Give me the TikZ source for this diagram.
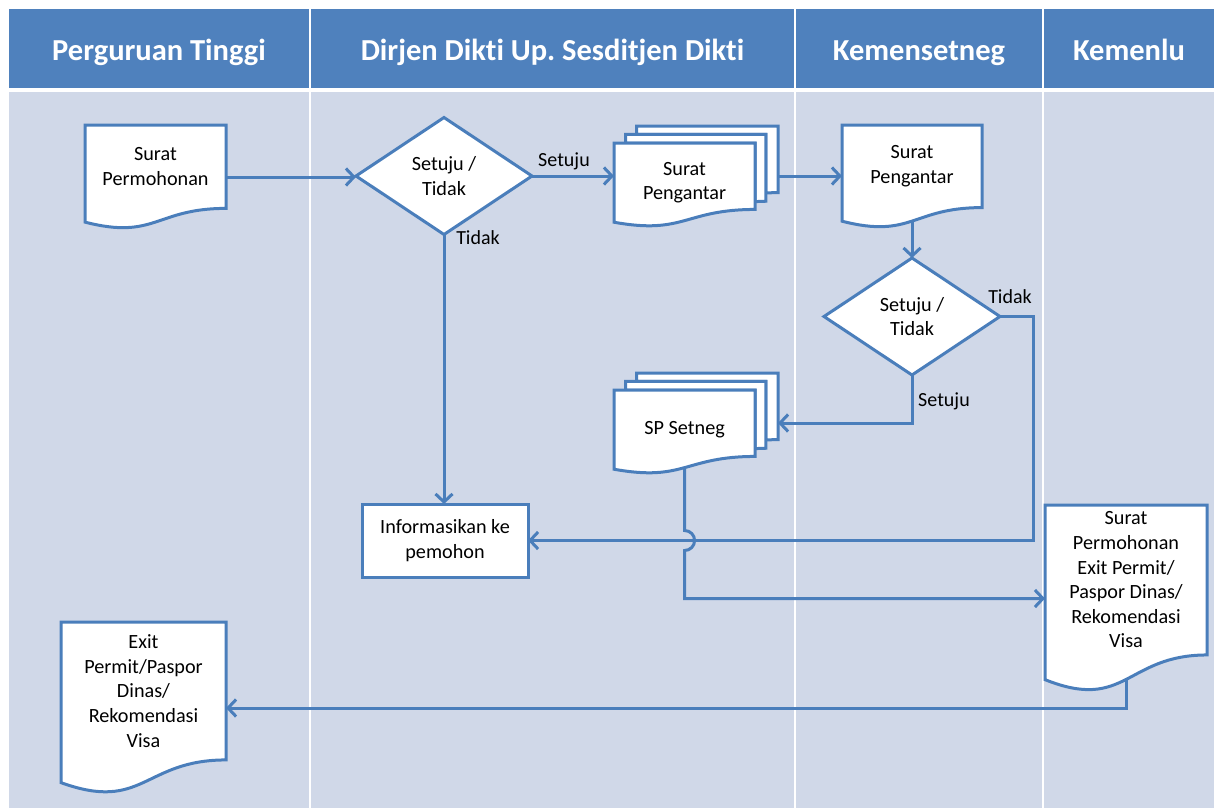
\documentclass[tikz,border=0pt]{standalone}
\usepackage{fontspec}
\setmainfont{Carlito}[Ligatures={NoCommon}]
\usetikzlibrary{arrows.meta,shapes.geometric,calc}
\definecolor{hdr}{HTML}{4F81BD}
\definecolor{lane}{HTML}{D0D8E8}
\definecolor{ln}{HTML}{4A7EBB}
\pgfdeclarelayer{back}
\pgfdeclarelayer{mid}
\pgfsetlayers{back,mid,main}
\frenchspacing
\tikzset{
  shapeline/.style={draw=ln, line width=3pt, fill=white, line join=miter},
  box/.style={draw=none, inner sep=0pt, outer sep=0pt, rectangle},
  txt/.style={font=\fontsize{20.2}{24.6}\selectfont, align=center, inner sep=0pt, text=black},
  conn/.style={draw=ln, line width=3pt, -{Straight Barb[length=8pt,width=17pt]}},
  hdrtxt/.style={font=\fontsize{30.5}{36}\selectfont\bfseries, text=white, anchor=base, inner sep=0pt},
  lbl/.style={font=\fontsize{20}{24}\selectfont, anchor=base, inner sep=0pt, text=black},
  dia/.style={diamond, shapeline, minimum width=176pt, minimum height=117pt, aspect=1.5, inner sep=0pt, outer sep=0pt, font=\fontsize{20.2}{24.6}\selectfont, align=center},
  procbox/.style={rectangle, shapeline, inner sep=0pt, outer sep=0pt, font=\fontsize{20.2}{24.6}\selectfont, align=center},
}
% document shape: name, x, y (down), w, h, text
\newcommand\docshape[6]{%
  \node[box, minimum width=#4pt, minimum height=#5pt, anchor=north west] (#1) at (#2,-#3) {};
  \begin{scope}[shift={(#1.north west)}, x=#4pt, y=-#5pt]
    \path[shapeline] (0,0) -- (1,0) -- (1,0.8019) .. controls (0.5,0.8019) and (0.5,1.1075) .. (0,0.9339) -- cycle;
    \coordinate (#1-b) at (0.5,0.93);
    \node[txt] (#1-t) at (0.5,0.401) {#6};
  \end{scope}}
% multi-document shape
\newcommand\multidoc[6]{%
  \node[box, minimum width=#4pt, minimum height=#5pt, anchor=north west] (#1) at (#2,-#3) {};
  \begin{scope}[shift={(#1.north west)}, x=#4pt, y=-#5pt]
    \path[shapeline] (0.1376,0.0840) -- (0.1376,0) -- (1,0) -- (1,0.6663) .. controls (0.9630,0.6663) and (0.9259,0.6698) .. (0.9259,0.6698) -- (0.9259,0.0840) -- cycle;
    \path[shapeline] (0.0709,0.1701) -- (0.0709,0.0840) -- (0.9259,0.0840) -- (0.9259,0.7524) .. controls (0.8934,0.7524) and (0.8609,0.7570) .. (0.8609,0.7570) -- (0.8609,0.1701) -- cycle;
    \path[shapeline] (0,0.9621) .. controls (0.4305,1.0899) and (0.4305,0.8344) .. (0.8609,0.8344) -- (0.8609,0.1701) -- (0,0.1701) -- cycle;
    \coordinate (#1-b) at (0.4305,0.94);
    \node[txt] (#1-t) at (0.4305,0.566) {#6};
  \end{scope}}
\begin{document}
\begin{tikzpicture}[x=1pt,y=1pt]
\useasboundingbox (0,0) rectangle (1214,-808);
% lanes
\begin{pgfonlayer}{back}
  \fill[white] (0,0) rectangle (1214,-808);
  \fill[hdr] (9,-9) rectangle (1214,-88);
  \fill[lane] (9,-92) rectangle (1214,-808);
  \foreach \xx in {310,795,1043} \fill[white] (\xx-1,-9) rectangle (\xx+1,-808);
\end{pgfonlayer}
\node[hdrtxt] (hd1) at (159,-60) {Perguruan Tinggi};
\node[hdrtxt] (hd2) at (552.5,-60) {Dirjen Dikti Up. Sesditjen Dikti};
\node[hdrtxt] (hd3) at (919,-60) {Kemensetneg};
\node[hdrtxt] (hd4) at (1129,-60) {Kemenlu};

% shapes
\docshape{srp}{85}{125}{141}{104}{Surat\\Permohonan}
\node[dia] (d1) at (444,-176) {Setuju /\\Tidak};
\multidoc{sp1}{614}{126}{164}{100}{Surat\\Pengantar}
\docshape{sp2}{842}{125}{140}{103}{Surat\\Pengantar}
\node[dia] (d2) at (912,-316.5) {Setuju /\\Tidak};
\multidoc{sps}{614}{373}{164}{100}{SP Setneg}
\node[procbox, minimum width=166pt, minimum height=73pt] (inf) at (445,-540.5) {Informasikan ke\\pemohon};
\docshape{krq}{1045}{505}{162}{187}{Surat\\Permohonan\\Exit Permit/\\Paspor Dinas/\\Rekomendasi\\Visa}
\docshape{ext}{61}{622}{165}{172}{Exit\\Permit/Paspor\\Dinas/\\Rekomendasi\\Visa}

% connectors
\begin{pgfonlayer}{mid}
  \draw[conn] (srp.east) -- (srp.east -| d1.west);
  \draw[conn] (d1.east) -- (d1.east -| sp1.west);
  \draw[conn] (sp1.east) -- (sp1.east -| sp2.west);
  \draw[conn] (sp2-b) -- (d2.north);
  \draw[conn] (d2.east) -- ++(33,0) |- (inf.east);
  \draw[conn] (d2.south) |- (sps.east);
  \draw[conn] (d1.south) -- (d1.south |- inf.north);
  \draw[conn] (sps-b) -- ([yshift=10pt]sps-b |- inf.east) arc[start angle=90,end angle=-90,radius=10pt] |- (krq.west);
  \draw[conn] (krq-b) |- (ext.east);
\end{pgfonlayer}

% labels
\node[lbl] (l1) at (564,-166) {Setuju};
\node[lbl] (l2) at (478,-244) {Tidak};
\node[lbl] (l3) at (1010,-303) {Tidak};
\node[lbl] (l4) at (944,-406) {Setuju};
\end{tikzpicture}
\end{document}
